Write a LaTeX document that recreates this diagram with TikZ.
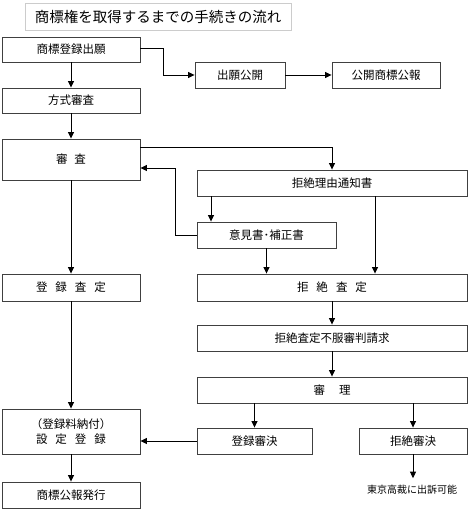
\documentclass[tikz,border=0pt]{standalone}
\usepackage{fontspec}
\setmainfont{Noto Sans CJK JP}
\usetikzlibrary{arrows.meta}
\begin{document}
\begin{tikzpicture}[x=1pt,y=-1pt,
  box/.style={draw=black!75,line width=0.9pt,inner sep=0pt,font=\fontsize{11.5}{14}\selectfont},
  arr/.style={draw=black,line width=0.8pt,-{Triangle[width=6pt,length=6.5pt]}},
  ln/.style={draw=black,line width=0.8pt}]
\useasboundingbox (0,0) rectangle (469,510);
\node[draw=black!20,line width=0.8pt,inner sep=0pt,minimum width=266pt,minimum height=27pt,font=\fontsize{14.5}{16}\selectfont] (title) at (158,16.5) {商標権を取得するまでの手続きの流れ};
\node[box,minimum width=138pt,minimum height=25pt] (b1) at (71,49.5) {商標登録出願};
\node[box,minimum width=90pt,minimum height=26pt] (pub) at (240,75) {出願公開};
\node[box,minimum width=108pt,minimum height=26pt] (gaz) at (386,75) {公開商標公報};
\node[box,minimum width=138pt,minimum height=25pt] (b2) at (71,100.5) {方式審査};
\node[box,minimum width=138pt,minimum height=41pt] (b3) at (71,159.5) {審\kern7pt 査};
\node[box,minimum width=270pt,minimum height=26pt] (r1) at (332,183) {拒絶理由通知書};
\node[box,minimum width=139pt,minimum height=26pt] (op) at (266.5,235) {意見書･補正書};
\node[box,minimum width=138pt,minimum height=27pt] (reg) at (71,287.5) {登\kern8pt 録\kern8pt 査\kern8pt 定};
\node[box,minimum width=270pt,minimum height=27pt] (rej) at (332,287.5) {拒\kern8pt 絶\kern8pt 査\kern8pt 定};
\node[box,minimum width=270pt,minimum height=26pt] (app) at (332,338) {拒絶査定不服審判請求};
\node[box,minimum width=270pt,minimum height=26pt] (tr) at (332,390) {審\kern14pt 理};
\node[box,minimum width=115pt,minimum height=26pt] (rd) at (254.5,441) {登録審決};
\node[box,minimum width=108pt,minimum height=26pt] (jd) at (413,441) {拒絶審決};
\node[box,minimum width=138pt,minimum height=45pt,align=center] (set) at (71,431.5) {（登録料納付）\\[1pt]設\kern8pt 定\kern8pt 登\kern8pt 録};
\node[box,minimum width=138pt,minimum height=26pt] (gz2) at (71,495) {商標公報発行};
\node[inner sep=0pt,font=\fontsize{10}{12}\selectfont] (tk) at (412,490) {東京高裁に出訴可能};
% connectors
\draw[arr] (b1) -- (b2);
\draw[arr] (b1.east |- 0,48) -- (163,48) |- (pub.west);
\draw[arr] (pub) -- (gaz);
\draw[arr] (b2) -- (b3);
\draw[arr] (b3.east |- 0,147) -| (r1.north);
\draw[arr] (op.west) -| (175,168) -- (b3.east |- 0,168);
\draw[arr] (r1.south -| 211,0) -- (op.north -| 211,0);
\draw[arr] (r1.south -| 375,0) -- (rej.north -| 375,0);
\draw[arr] (op.south) -- (rej.north -| op.south);
\draw[arr] (b3) -- (reg);
\draw[arr] (rej) -- (app);
\draw[arr] (app) -- (tr);
\draw[arr] (tr.south -| rd.north) -- (rd.north);
\draw[arr] (tr.south -| jd.north) -- (jd.north);
\draw[arr] (reg) -- (set);
\draw[arr] (rd.west) -- (rd.west -| set.east);
\draw[arr] (set) -- (gz2);
\draw[arr] (jd.south) -- ([yshift=7pt,xshift=1pt]tk.north);
\end{tikzpicture}
\end{document}
